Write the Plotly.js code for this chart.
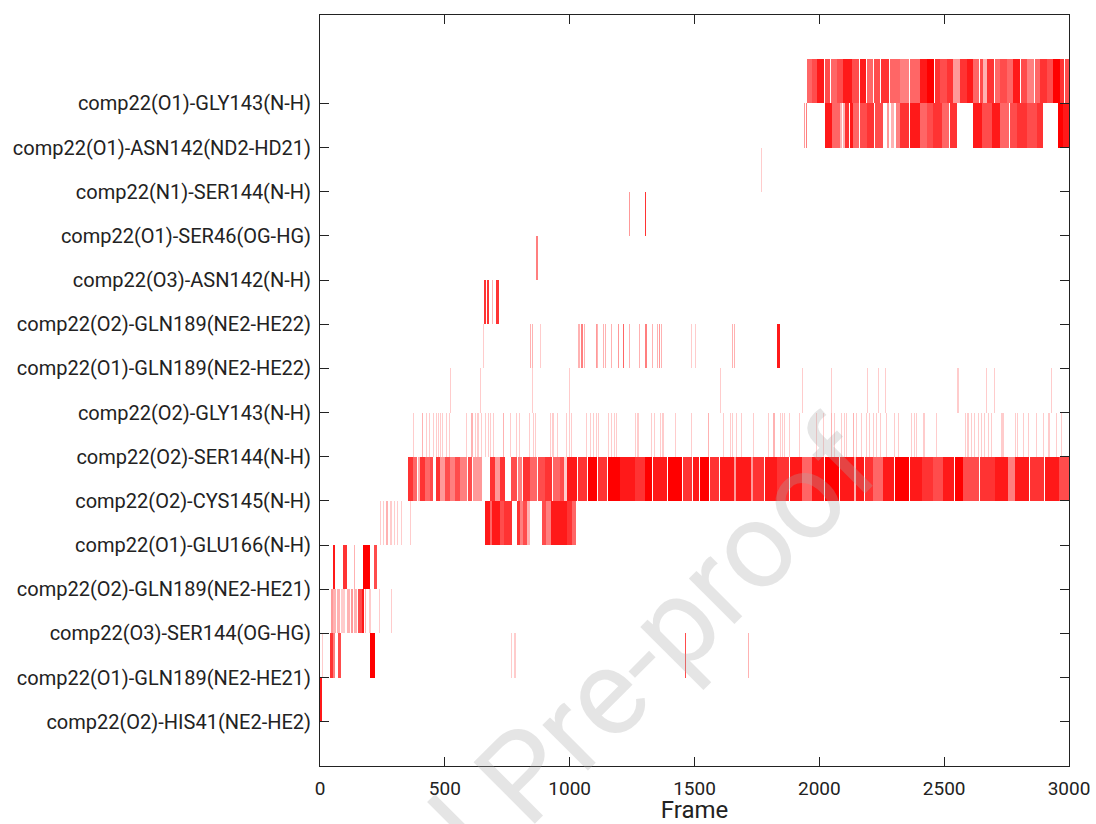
<!DOCTYPE html>
<html>
<head>
<meta charset="utf-8">
<script src="https://cdn.plot.ly/plotly-3.0.1.min.js"></script>
<style>html,body{margin:0;padding:0;background:#fff;}#chart{width:1096px;height:824px;}</style>
</head>
<body>
<div id="chart"></div>
<script>
// Row labels, bottom (tick 1) to top (tick 15)
const labels = [
  "comp22(O2)-HIS41(NE2-HE2)",
  "comp22(O1)-GLN189(NE2-HE21)",
  "comp22(O3)-SER144(OG-HG)",
  "comp22(O2)-GLN189(NE2-HE21)",
  "comp22(O1)-GLU166(N-H)",
  "comp22(O2)-CYS145(N-H)",
  "comp22(O2)-SER144(N-H)",
  "comp22(O2)-GLY143(N-H)",
  "comp22(O1)-GLN189(NE2-HE22)",
  "comp22(O2)-GLN189(NE2-HE22)",
  "comp22(O3)-ASN142(N-H)",
  "comp22(O1)-SER46(OG-HG)",
  "comp22(N1)-SER144(N-H)",
  "comp22(O1)-ASN142(ND2-HD21)",
  "comp22(O1)-GLY143(N-H)"
];
const xTicks = [0, 500, 1000, 1500, 2000, 2500, 3000];

// Each entry: [startFrame, endFrame, densityLevel(1-10)]
const his41_O2 = [[0,9,9]];
const gln189HE21_O1 = [[7,13,2],[40,51,8],[53,60,5],[73,83,7],[200,220,10],[765,769,2],[779,784,2],[1461,1465,7],[1713,1717,3]];
const ser144OG_O3 = [[44,53,4],[53,64,3],[67,80,3],[84,100,2],[107,120,3],[125,133,4],[137,150,3],[153,167,7],[167,178,9],[181,186,3],[198,203,2],[238,242,2],[286,290,2]];
const gln189HE21_O2 = [[51,60,9],[93,107,8],[137,141,3],[174,200,10],[216,227,7]];
const glu166_O1 = [[239,243,2],[253,257,2],[266,274,3],[280,288,2],[295,299,2],[309,313,2],[323,327,2],[359,363,2],
  [660,680,9],[680,690,6],[690,720,9],[720,735,7],[735,768,8],[788,800,8],[800,815,5],[815,830,7],[830,841,3],
  [888,905,7],[905,925,5],[925,990,9],[990,1010,8],[1010,1025,6]];
const cys145_O2 = [[354,372,8],[374,390,6],[392,400,3],[400,420,8],[422,440,6],[442,454,7],[466,480,8],[481,500,4],[502,520,7],
  [522,540,5],[542,560,7],[562,590,5],[592,610,7],[612,649,4],[682,700,8],[700,719,4],[719,741,8],[764,790,7],[792,810,5],
  [812,840,8],[842,870,6],[872,900,7],[902,930,8],[932,960,6],[962,979,7],[979,989,2],[989,1030,9],[1032,1070,8],[1072,1110,10],
  [1112,1150,8],[1152,1200,10],[1202,1260,9],[1262,1300,8],[1302,1330,10],[1332,1390,9],[1392,1450,10],[1452,1490,8],
  [1492,1520,9],[1522,1560,10],[1562,1600,8],[1602,1660,9],[1660,1668,4],[1668,1725,9],[1725,1735,4],[1735,1780,8],
  [1782,1830,9],[1832,1880,8],[1882,1930,9],[1930,1970,6],[1972,2020,9],[2022,2080,10],[2082,2140,9],[2140,2146,3],
  [2146,2180,9],[2182,2215,8],[2215,2255,6],[2255,2300,9],[2302,2360,10],[2362,2410,9],[2412,2455,8],[2455,2495,7],
  [2495,2540,9],[2542,2575,10],[2575,2640,7],[2642,2705,8],[2705,2755,9],[2755,2785,5],[2785,2840,9],[2842,2900,8],
  [2902,2960,9],[2960,3000,7]];
const ser144N_O2 = [[372,376,2],[408,412,3],[424,428,2],[435,439,2],[452,456,2],[464,468,2],[471,475,2],[481,485,2],[489,493,2],
  [505,509,2],[516,520,2],[583,587,2],[604,612,3],[620,624,2],[630,635,2],[643,647,2],[659,663,2],[673,677,2],[681,685,2],
  [692,696,2],[731,738,3],[759,763,2],[786,790,2],[799,803,2],[836,840,2],[852,856,2],[863,867,2],[920,924,2],[931,936,2],
  [949,953,2],[987,991,2],[996,1000,2],[1004,1008,2],[1066,1070,2],[1083,1087,2],[1092,1096,2],[1104,1108,2],[1112,1116,2],
  [1154,1158,2],[1165,1169,2],[1176,1180,2],[1185,1189,2],[1261,1265,2],[1271,1276,2],[1327,1331,2],[1338,1343,2],
  [1361,1365,2],[1371,1376,2],[1420,1424,2],[1487,1491,2],[1553,1557,3],[1613,1617,2],[1641,1645,2],[1651,1656,2],
  [1667,1671,2],[1687,1691,2],[1734,1738,2],[1794,1798,2],[1815,1823,3],[1841,1845,2],[1850,1854,2],[1859,1863,2],
  [1880,1884,2],[1920,1924,2],[1987,1991,2],[2014,2018,2],[2048,2052,3],[2059,2064,2],[2088,2092,2],[2097,2101,2],[2106,2110,2],
  [2135,2139,3],[2146,2151,2],[2168,2172,2],[2188,2192,2],[2199,2204,2],[2215,2219,2],[2226,2231,2],[2241,2245,2],[2268,2272,2],
  [2301,2305,2],[2314,2318,2],[2369,2373,2],[2378,2382,2],[2387,2391,2],[2416,2424,2],[2468,2472,2],[2582,2586,2],[2593,2598,2],
  [2609,2613,2],[2620,2624,2],[2636,2640,2],[2647,2651,2],[2661,2665,2],[2676,2680,2],[2687,2691,2],[2729,2738,2],
  [2783,2787,2],[2791,2795,2],[2815,2819,2],[2835,2839,2],[2868,2872,2],[2895,2899,2],[2916,2925,2],[2948,2952,2],[2968,2972,2]];
const gly143N_O2 = [[519,523,2],[641,645,2],[850,854,2],[999,1003,2],[1603,1607,2],[1930,1934,2],[2045,2049,2],[2189,2193,2],
  [2234,2238,2],[2261,2265,2],[2550,2554,2],[2557,2561,2],[2668,2672,2],[2698,2702,2],[2926,2930,2]];
const gln189HE22_O1 = [[652,656,2],[843,847,3],[850,854,3],[880,884,2],[1034,1040,3],[1046,1052,5],[1056,1061,3],[1105,1109,4],
  [1110,1114,3],[1134,1138,3],[1142,1146,3],[1166,1169,3],[1192,1198,4],[1212,1216,6],[1237,1241,3],[1277,1281,3],[1303,1310,5],
  [1330,1333,3],[1349,1353,3],[1356,1360,4],[1364,1368,3],[1484,1488,2],[1500,1504,2],[1649,1653,3],[1658,1662,3],[1829,1842,9]];
const gln189HE22_O2 = [[658,665,8],[669,677,8],[688,692,3],[705,718,8]];
const asn142N_O3 = [[864,873,5]];
const ser46_O1 = [[1238,1242,4],[1303,1307,8]];
const ser144N_N1 = [[1767,1771,2]];
const asn142ND2_O1 = [[1938,1944,4],[1946,1950,5],[2023,2050,9],[2050,2083,6],[2083,2090,3],[2096,2103,3],[2103,2120,8],
  [2122,2136,9],[2136,2160,6],[2162,2189,7],[2189,2220,8],[2222,2256,7],[2272,2280,4],[2288,2300,3],[2306,2323,5],
  [2323,2360,8],[2362,2403,9],[2403,2430,6],[2432,2456,7],[2456,2490,8],[2492,2520,6],[2522,2550,8],[2614,2650,9],
  [2652,2690,7],[2692,2723,9],[2723,2760,6],[2762,2790,7],[2790,2830,8],[2832,2870,7],[2872,2897,8],[2955,2975,10],[2977,2998,9]];
const gly143N_O1 = [[1952,1970,6],[1972,1989,7],[1989,2020,9],[2022,2044,7],[2048,2070,6],[2072,2096,7],[2096,2130,9],
  [2132,2160,7],[2162,2188,9],[2192,2215,6],[2217,2241,7],[2246,2280,8],[2282,2323,6],[2323,2360,5],[2362,2403,6],
  [2403,2430,9],[2430,2460,10],[2462,2483,8],[2483,2510,7],[2512,2536,8],[2536,2563,4],[2563,2590,8],[2592,2617,9],
  [2617,2640,6],[2642,2657,7],[2657,2670,3],[2670,2700,8],[2702,2723,6],[2723,2750,7],[2752,2777,6],[2777,2805,9],
  [2807,2830,7],[2830,2860,5],[2862,2884,6],[2884,2910,8],[2912,2937,7],[2937,2964,10],[2964,2980,8],[2982,3000,7]];

const rows = [his41_O2, gln189HE21_O1, ser144OG_O3, gln189HE21_O2, glu166_O1, cys145_O2, ser144N_O2, gly143N_O2,
  gln189HE22_O1, gln189HE22_O2, asn142N_O3, ser46_O1, ser144N_N1, asn142ND2_O1, gly143N_O1];

const traces = rows.map((segs, i) => ({
  type: 'bar',
  name: labels[i],
  x: segs.map(s => (s[0] + s[1]) / 2),
  width: segs.map(s => Math.max(s[1] - s[0], 4)),
  y: segs.map(() => 1),
  base: segs.map(() => i + 1),
  marker: { color: segs.map(s => 'rgba(255,0,0,' + (s[2] / 10) + ')'), line: { width: 0 } },
  showlegend: false,
  hoverinfo: 'skip'
}));

const axisColor = '#222';
const layout = {
  width: 1096, height: 824,
  margin: { l: 320, r: 27, t: 15, b: 58 },
  paper_bgcolor: '#fff', plot_bgcolor: '#fff',
  barmode: 'overlay', bargap: 0,
  font: { family: 'Roboto, sans-serif', color: '#222' },
  xaxis: {
    range: [0, 3000], tickvals: xTicks, ticktext: xTicks.map(String),
    showgrid: false, zeroline: false, showline: true, mirror: 'ticks',
    linecolor: axisColor, linewidth: 1, ticks: 'inside', ticklen: 9, tickcolor: axisColor,
    tickfont: { size: 19, color: '#222' }, ticklabelstandoff: 5,
    title: { text: 'Frame', font: { size: 24, color: '#222' }, standoff: 9 }
  },
  yaxis: {
    range: [0, 17], tickvals: labels.map((_, i) => i + 1), ticktext: labels,
    showgrid: false, zeroline: false, showline: true, mirror: 'ticks',
    linecolor: axisColor, linewidth: 1, ticks: 'inside', ticklen: 9, tickcolor: axisColor,
    tickfont: { size: 20, color: '#222' }, ticklabelstandoff: 4
  },
  annotations: [{
    text: 'Journal Pre-proof', xref: 'paper', yref: 'paper', x: 0.27, y: -0.015,
    xanchor: 'center', yanchor: 'middle', showarrow: false, textangle: -45,
    font: { family: 'Roboto, sans-serif', size: 122, color: 'rgba(170,170,170,0.3)' }
  }]
};

Plotly.newPlot('chart', traces, layout, { staticPlot: true, displayModeBar: false });
</script>
</body>
</html>
